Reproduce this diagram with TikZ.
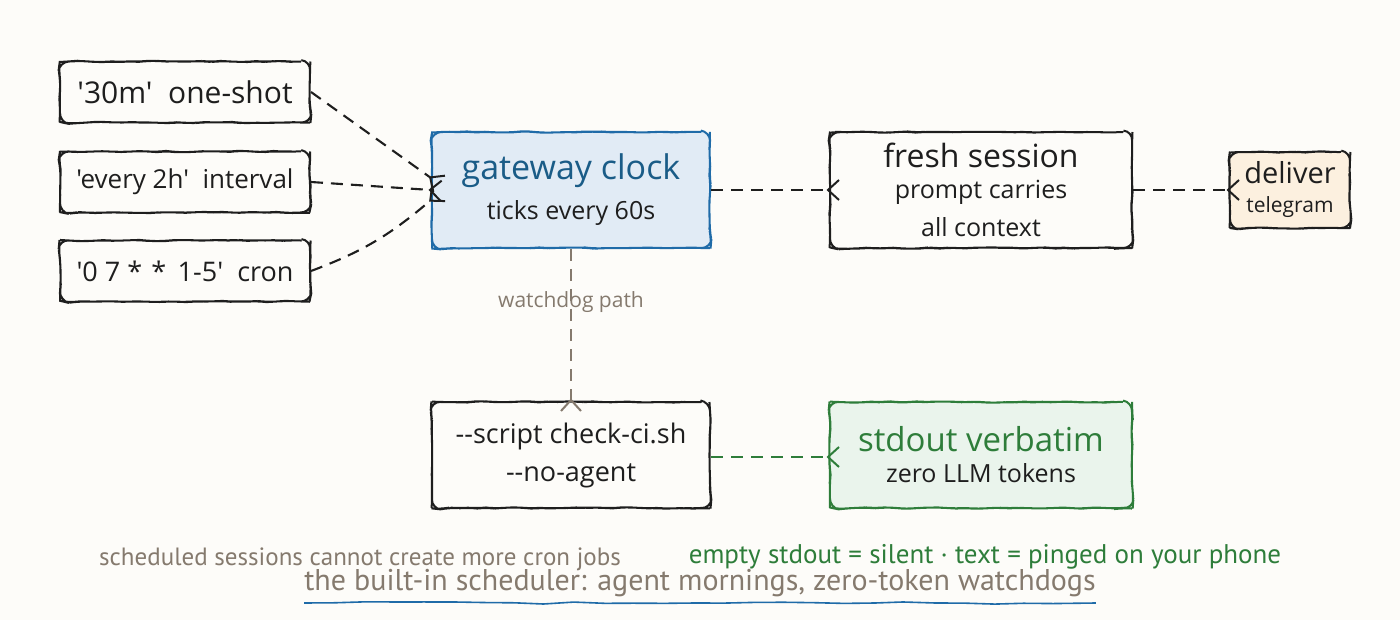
\documentclass[tikz,border=0pt]{standalone}
\usepackage{fontspec}
\setmainfont{Open Sans}[Ligatures=TeXOff]
\newfontfamily\notefont{PT Sans}[Ligatures=TeXOff]
\usetikzlibrary{arrows.meta,decorations.pathmorphing}

\definecolor{paper}{HTML}{FDFCF9}
\definecolor{ink}{HTML}{1E1E1E}
\definecolor{clockline}{HTML}{1F6BA8}
\definecolor{clockfill}{HTML}{E1EBF5}
\definecolor{clocktext}{HTML}{1A5C87}
\definecolor{okgreen}{HTML}{2E7D3A}
\definecolor{okfill}{HTML}{EAF4EC}
\definecolor{sendfill}{HTML}{FCF0DF}
\definecolor{muted}{HTML}{857A6E}

\begin{document}
\begin{tikzpicture}
  [x=1pt,y=-1pt,
   box/.style={draw=ink,line width=2pt,fill=paper,rounded corners=9pt,align=center,
     decorate,decoration={random steps,segment length=9pt,amplitude=0.7pt},
     font=\fontsize{25}{36}\selectfont,text=ink},
   srcbox/.style={box,minimum width=250,minimum height=61,inner sep=2pt},
   bigbox/.style={box,minimum width=278,minimum height=106,inner sep=2pt},
   link/.style={draw=ink,line width=2.1pt,dash pattern=on 12pt off 8pt,shorten >=-11pt,
     -{Straight Barb[reversed,length=11pt,width=20pt,line width=2pt]}},
   note/.style={font=\notefont\fontsize{25}{28}\selectfont}]
  \path[use as bounding box,fill=paper] (0,0) rectangle (1400,620);

  % schedule kinds
  \node[srcbox,font=\fontsize{30}{34}\selectfont] (oneshot) at (185,92) {'30m'\ \ one-shot};
  \node[srcbox,font=\fontsize{26}{30}\selectfont] (interval) at (185,182) {'every 2h'\ \ interval};
  \node[srcbox,font=\fontsize{27}{30}\selectfont] (cron) at (185,271) {'0 7 *\,\,*\, 1-5'\ \ cron};

  \node[bigbox,minimum height=116,draw=clockline,fill=clockfill] (clock) at (571,190)
    {{\color{clocktext}\fontsize{34}{38}\selectfont gateway clock}\\[4pt]ticks every 60s};
  \node[bigbox,minimum width=302,minimum height=116] (fresh) at (981,190)
    {{\fontsize{32}{36}\selectfont fresh session}\\[-5pt]prompt carries\\[2pt]all context};
  \node[box,minimum width=120,minimum height=76,fill=sendfill,inner sep=1pt] (deliver) at (1290,190)
    {{\fontsize{29}{30}\selectfont deliver}\\[-7pt]{\fontsize{21}{22}\selectfont telegram}};

  \node[bigbox,font=\fontsize{27}{36}\selectfont] (script) at (571,455) {--script check-ci.sh\\[2pt]--no-agent};
  \node[bigbox,minimum width=302,draw=okgreen,fill=okfill] (verbatim) at (981,455)
    {{\color{okgreen}\fontsize{33}{36}\selectfont stdout verbatim}\\[-5pt]zero LLM tokens};

  % connectors
  \foreach \from/\dy/\bend in {oneshot/12/0, interval/0/0, cron/-10/-10}
    \draw[link] (\from.east) to[bend left=\bend] ([yshift=\dy pt]clock.west);
  \draw[link] (clock.east) -- (fresh.west);
  \draw[link] (fresh.east) -- (deliver.west);
  \draw[link,draw=muted,-{Straight Barb[reversed,length=11pt,width=20pt,line width=2pt,color=muted]}]
    (clock.south) -- node[pos=0.35,text=muted,font=\fontsize{21}{24}\selectfont] (wdlabel) {watchdog path} (script.north);
  \draw[link,draw=okgreen,-{Straight Barb[reversed,length=11pt,width=20pt,line width=2pt,color=okgreen]}]
    ([yshift=-2pt]script.east) -- ([yshift=-2pt]verbatim.west);

  % notes
  \node[note,text=muted] (nocron) at (360,559) {scheduled sessions cannot create more cron jobs};
  \node[note,text=okgreen,font=\notefont\fontsize{27}{28}\selectfont] (silent) at (985,557) {empty stdout = silent · text = pinged on your phone};
  \node[note,text=muted,font=\notefont\fontsize{30}{32}\selectfont,inner sep=0pt] (title) at (700,583)
    {the built-in scheduler: agent mornings, zero-token watchdogs};
  \draw[clockline,line width=1.6pt,decorate,decoration={random steps,segment length=30pt,amplitude=1.2pt}]
    ([yshift=-6pt]title.south west) -- ([yshift=-6pt]title.south east);
\end{tikzpicture}
\end{document}
